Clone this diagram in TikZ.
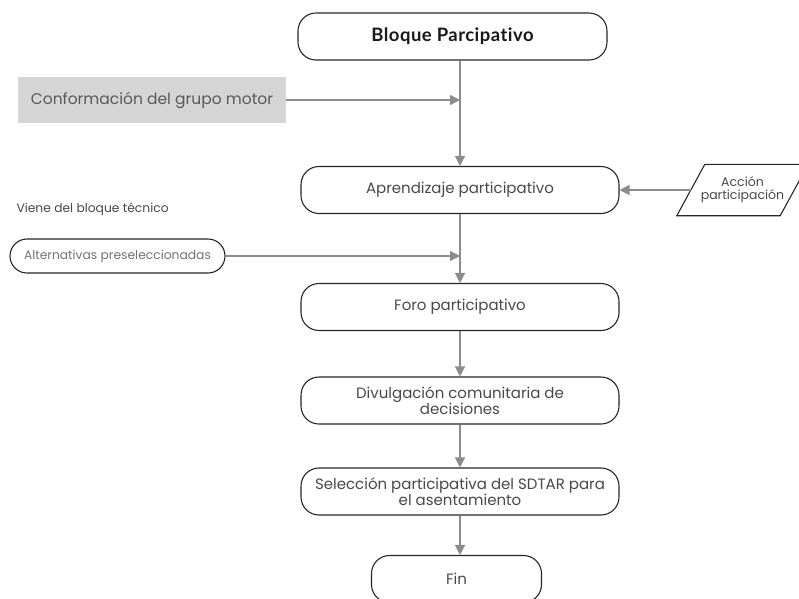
\documentclass[tikz,border=0pt]{standalone}
\usepackage{fontspec}
\setmainfont{Poppins}
\newfontfamily\titlefont{Lato}[Ligatures=CommonOff, LetterSpace=2.5]
\usetikzlibrary{positioning,arrows.meta}
\definecolor{linegray}{HTML}{8C8C8C}
\definecolor{boxgray}{HTML}{D5D5D5}
\definecolor{textgray}{HTML}{484848}

\begin{document}
\begin{tikzpicture}[
        x=1pt, y=1pt,
        terminal/.style={rectangle, draw=black!85, line width=1.1pt, rounded corners=18pt, minimum height=47pt, text=textgray, align=center, font=\fontsize{15}{15}\selectfont},
        process/.style={terminal, minimum width=318pt},
        source/.style={rectangle, fill=boxgray, minimum width=268pt, minimum height=46pt, text=black!65, font=\fontsize{15.5}{17}\selectfont},
        data/.style={rectangle, minimum width=103pt, minimum height=51pt, inner sep=0pt, align=center, text=textgray, font=\fontsize{12.5}{13}\selectfont},
        databorder/.style={draw=black!85, line width=1.1pt},
        pill/.style={rectangle, draw=black!85, line width=1.1pt, rounded corners=17pt, minimum width=215pt, minimum height=34pt, text=black!55, font=\fontsize{12.3}{13}\selectfont},
        arrow/.style={-{Triangle[length=10pt, width=10pt]}, linegray, line width=1.3pt},
        note/.style={anchor=west, text=textgray, font=\fontsize{12.3}{13}\selectfont}
    ]
        \useasboundingbox (0,0) rectangle (799,-598);
        \clip (0,0) rectangle (799,-598);

        % Main column
        \node[terminal, minimum width=309pt, font=\titlefont\bfseries\fontsize{18.5}{20}\selectfont, text=black!90] (bloque) at (452.5,-36.5) {Bloque Parcipativo};
        \node[process, node distance=153.5pt, below of=bloque, xshift=7.5pt] (aprend) {Aprendizaje participativo};
        \node[process, node distance=117pt, below of=aprend] (foro) {Foro participativo};
        \node[process, node distance=93.5pt, below of=foro] (divul) {Divulgación comunitaria de\\decisiones};
        \node[process, node distance=91pt, below of=divul] (selec) {Selección participativa del SDTAR para\\el asentamiento};
        \node[terminal, minimum width=170pt, node distance=87.5pt, below of=selec, xshift=-3.5pt] (fin) {Fin};

        % Side inputs
        \node[source] (motor) at (152,-100) {Conformación del grupo motor};
        \node[data, node distance=282.5pt, right of=aprend] (accion) {Acción\\participación};
        \draw[databorder] ([xshift=-14pt]accion.south west) -- ([xshift=-14pt]accion.south east)
            -- ([xshift=14pt]accion.north east) -- ([xshift=14pt]accion.north west) -- cycle;
        \node[note] (viene) at (13,-209) {Viene del bloque técnico};
        \node[pill] (alt) at (117.5,-256) {Alternativas preseleccionadas};

        % Arrows
        \draw[arrow] (aprend |- bloque.south) -- (aprend.north);
        \draw[arrow] (motor.east) -- (motor.east -| aprend);
        \draw[arrow] (accion.west) -- (aprend.east);
        \draw[arrow] (aprend.south) -- (foro.north);
        \draw[arrow] (alt.east) -- (alt.east -| foro);
        \draw[arrow] (foro.south) -- (divul.north);
        \draw[arrow] (divul.south) -- (selec.north);
        \draw[arrow] (selec.south) -- (selec.south |- fin.north);
    \end{tikzpicture}
\end{document}
